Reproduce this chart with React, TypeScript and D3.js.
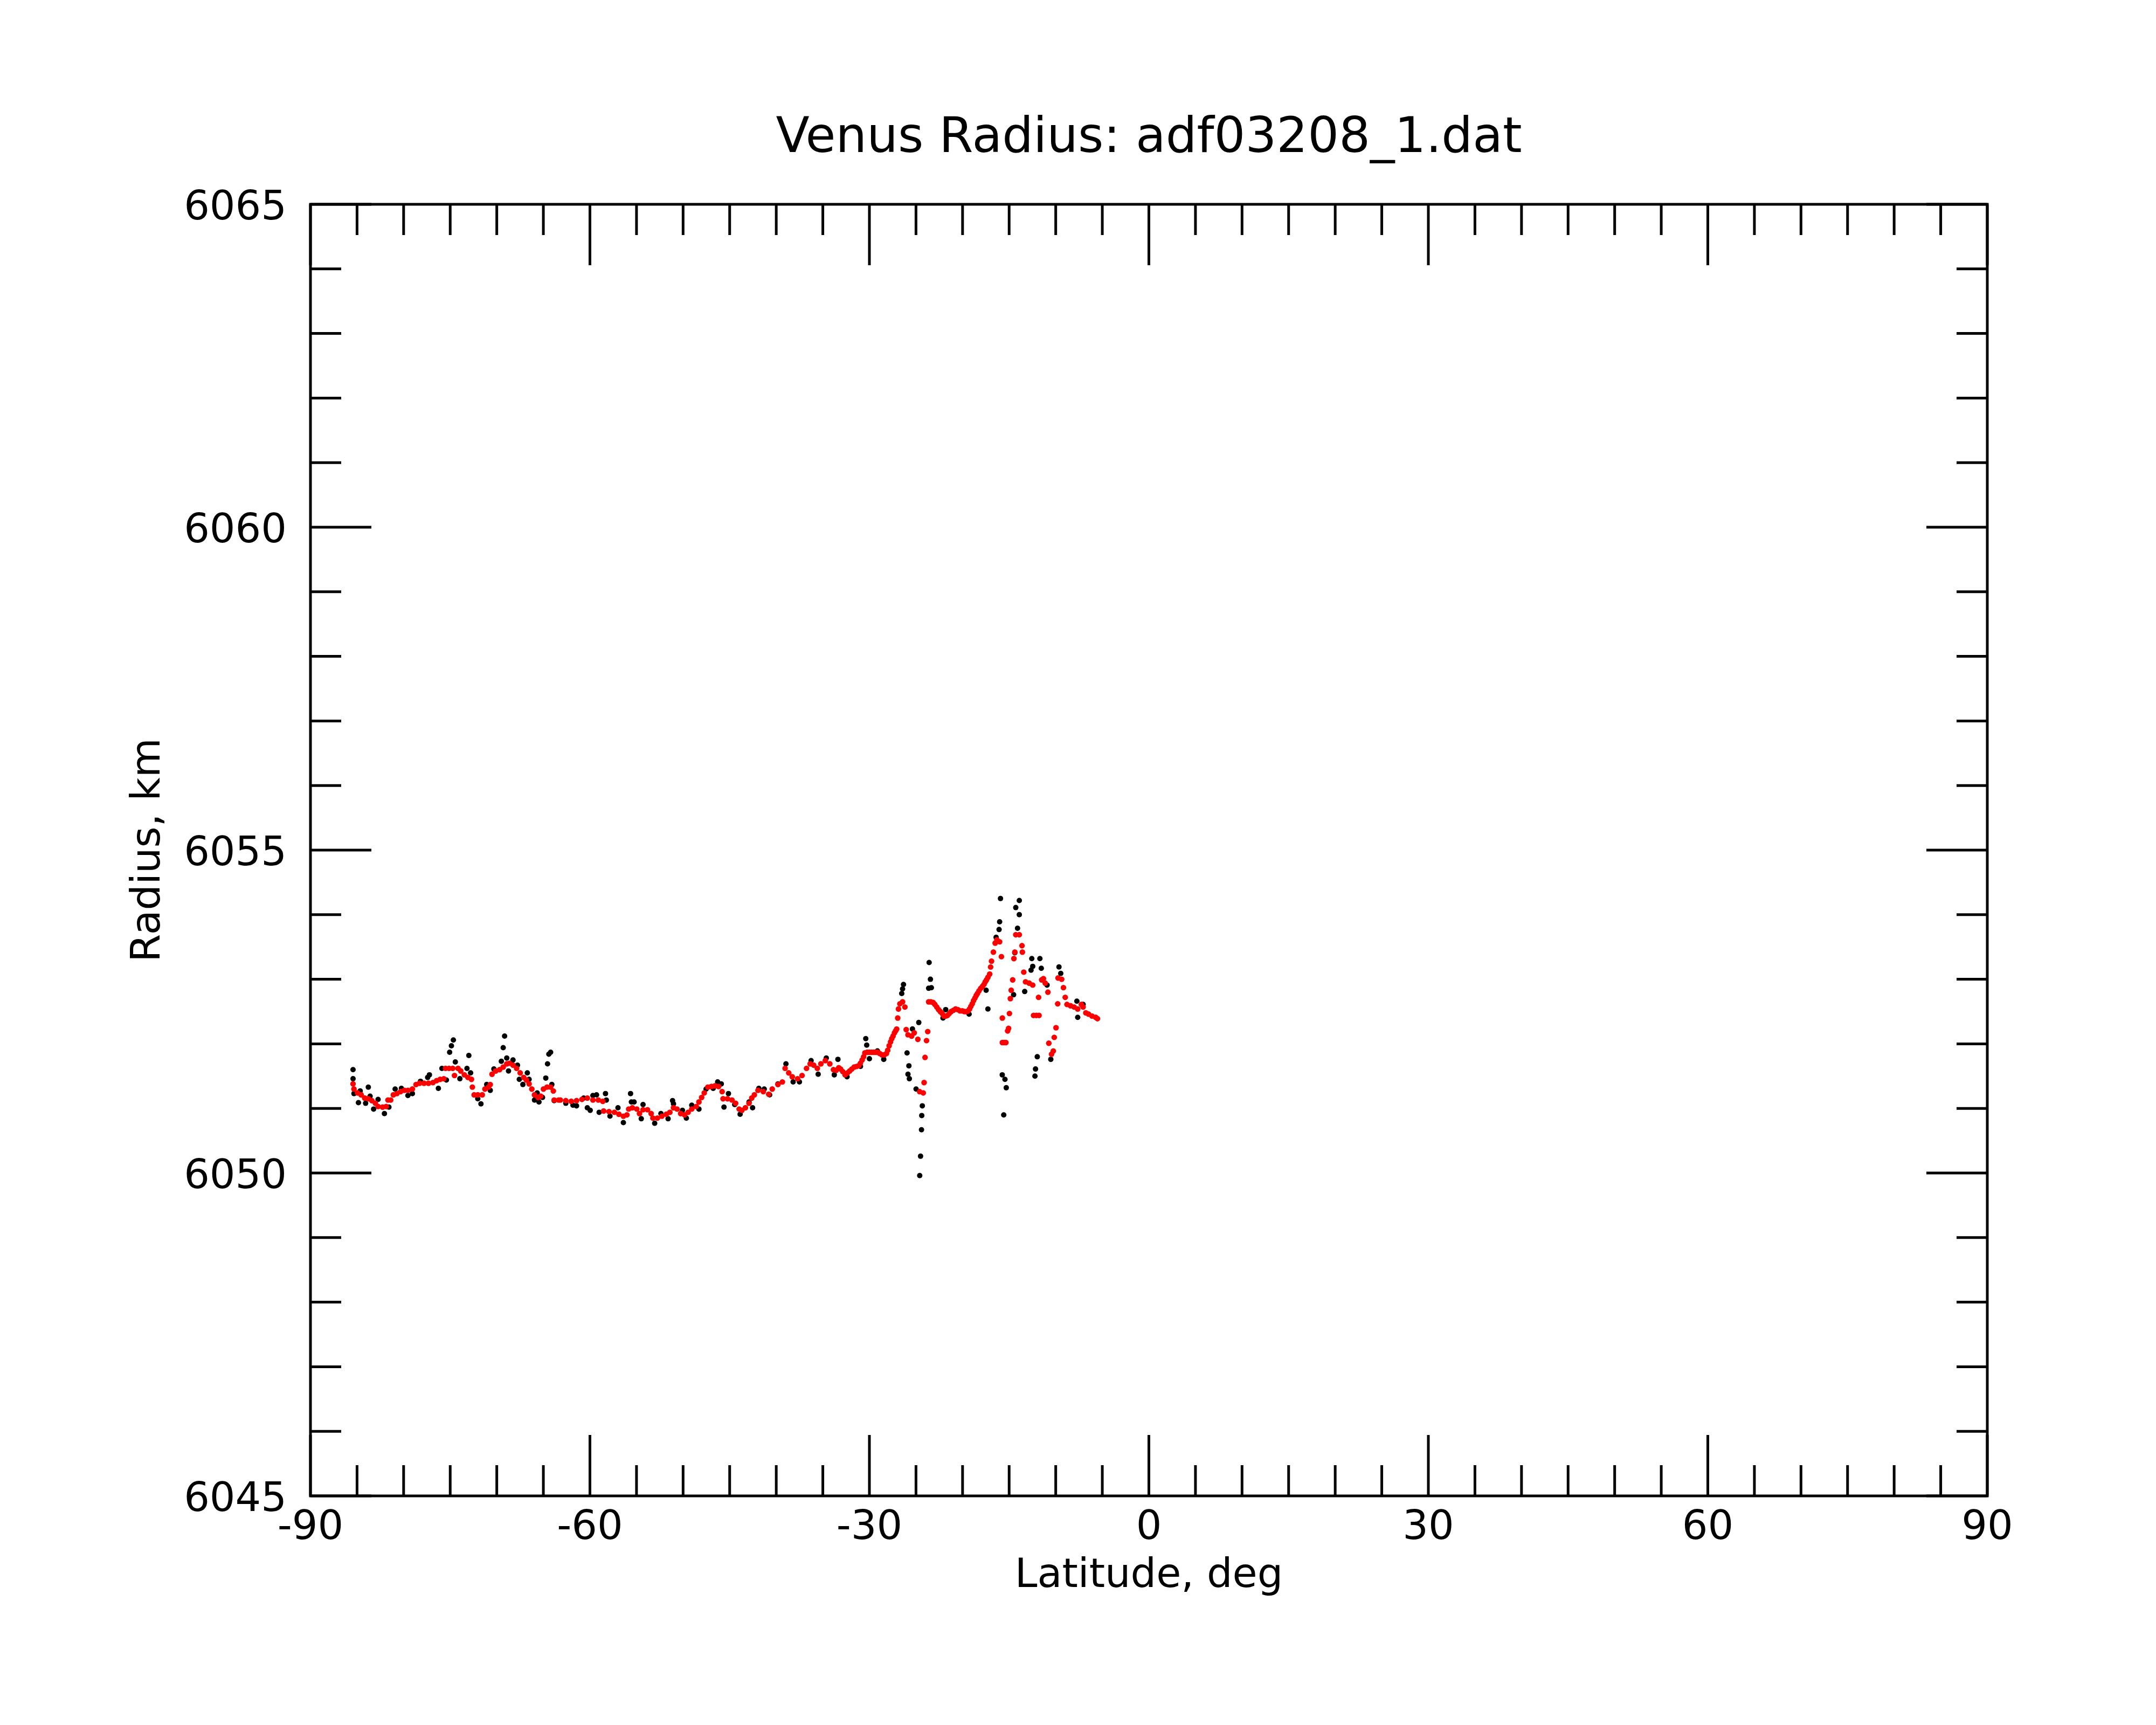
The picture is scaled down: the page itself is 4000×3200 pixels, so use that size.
import * as d3 from "d3";

const title = "Venus Radius: adf03208_1.dat";
const xLabel = "Latitude, deg";
const yLabel = "Radius, km";

const xDomain = [-90, 90];
const yDomain = [6045, 6065];
const xTicks = [-90, -60, -30, 0, 30, 60, 90];
const yTicks = [6045, 6050, 6055, 6060, 6065];

// raw radius samples (black), [latitude, radius]
const rawPoints: [number, number][] = [
  [-85.43, 6051.6], [-85.43, 6051.46], [-85.33, 6051.23], [-84.85, 6051.09], [-84.66, 6051.27],
  [-84.08, 6051.08], [-83.79, 6051.33], [-83.6, 6051.19], [-83.22, 6050.99], [-82.74, 6051.14],
  [-82.06, 6050.92], [-81.58, 6051.02], [-80.91, 6051.3], [-80.24, 6051.31], [-79.54, 6051.2],
  [-79.06, 6051.23], [-78.19, 6051.42], [-77.42, 6051.48], [-77.23, 6051.52], [-76.27, 6051.31],
  [-75.89, 6051.62], [-75.41, 6051.44], [-75.06, 6051.87], [-74.87, 6051.97], [-74.66, 6052.06],
  [-74.45, 6051.72], [-73.96, 6051.46], [-73.2, 6051.62], [-73.0, 6051.82], [-72.81, 6051.55],
  [-72.04, 6051.15], [-71.7, 6051.07], [-71.08, 6051.37], [-70.7, 6051.28], [-70.31, 6051.61],
  [-69.51, 6051.73], [-69.31, 6051.94], [-69.16, 6052.12], [-68.93, 6051.78], [-68.74, 6051.58],
  [-68.26, 6051.75], [-67.78, 6051.67], [-67.58, 6051.45], [-67.2, 6051.37], [-66.72, 6051.55],
  [-66.53, 6051.45], [-65.95, 6051.13], [-65.66, 6051.24], [-65.47, 6051.1], [-65.09, 6051.17],
  [-64.74, 6051.47], [-64.55, 6051.69], [-64.41, 6051.84], [-64.22, 6051.87], [-64.09, 6051.37],
  [-63.84, 6051.12], [-62.59, 6051.08], [-61.82, 6051.05], [-61.44, 6051.04], [-60.67, 6051.16],
  [-60.28, 6051.01], [-59.97, 6050.97], [-59.68, 6051.2], [-59.29, 6051.21], [-59.01, 6050.94],
  [-58.33, 6051.23], [-58.24, 6051.13], [-57.85, 6050.88], [-56.99, 6051.01], [-56.41, 6050.78],
  [-55.64, 6051.23], [-55.55, 6051.1], [-55.26, 6051.1], [-54.49, 6050.84], [-54.3, 6051.06],
  [-53.05, 6050.77], [-52.38, 6050.92], [-51.61, 6050.84], [-51.13, 6051.12], [-51.03, 6051.07],
  [-50.07, 6050.97], [-49.65, 6050.85], [-49.07, 6051.05], [-48.3, 6050.99], [-47.53, 6051.3],
  [-46.77, 6051.31], [-46.29, 6051.41], [-45.9, 6051.38], [-45.61, 6051.02], [-45.13, 6051.23],
  [-44.46, 6051.06], [-43.88, 6050.91], [-42.92, 6051.1], [-42.54, 6051.01], [-41.87, 6051.31],
  [-41.29, 6051.3], [-40.71, 6051.21], [-39.82, 6051.38], [-38.96, 6051.69], [-38.19, 6051.41],
  [-37.51, 6051.41], [-36.26, 6051.74], [-35.5, 6051.53], [-34.63, 6051.78], [-33.77, 6051.52],
  [-33.38, 6051.76], [-32.4, 6051.49], [-30.96, 6051.65], [-30.39, 6052.08], [-30.29, 6051.98],
  [-30.0, 6051.77], [-29.14, 6051.89], [-28.46, 6051.76], [-26.53, 6052.78], [-26.44, 6052.85],
  [-26.34, 6052.92], [-25.96, 6051.86], [-25.86, 6051.53], [-25.76, 6051.66], [-25.71, 6051.46],
  [-25.38, 6052.23], [-24.99, 6051.3], [-24.7, 6052.33], [-24.6, 6049.96], [-24.51, 6050.26],
  [-24.41, 6050.67], [-24.38, 6050.89], [-24.32, 6051.04], [-23.64, 6052.86], [-23.59, 6053.26],
  [-23.45, 6053.0], [-23.35, 6052.87], [-22.1, 6052.4], [-21.81, 6052.53], [-19.3, 6052.46],
  [-17.47, 6052.83], [-17.28, 6052.54], [-16.4, 6053.65], [-16.08, 6053.77], [-16.02, 6053.89],
  [-15.93, 6054.25], [-15.74, 6051.52], [-15.58, 6050.9], [-15.45, 6051.45], [-15.31, 6051.32],
  [-14.52, 6052.76], [-14.39, 6053.41], [-14.29, 6054.11], [-14.1, 6053.79], [-13.91, 6054.22],
  [-13.91, 6054.0], [-13.33, 6052.81], [-12.65, 6053.14], [-12.57, 6053.32], [-12.47, 6053.2],
  [-12.23, 6051.5], [-12.17, 6051.61], [-11.98, 6051.8], [-11.7, 6053.32], [-11.55, 6053.17],
  [-10.93, 6052.91], [-10.53, 6051.76], [-9.65, 6053.19], [-9.46, 6053.09], [-7.73, 6052.66],
  [-7.64, 6052.41], [-7.06, 6052.61],
];

// filtered radius (red), [latitude, radius]
const fitPoints: [number, number][] = [
  [-85.43, 6051.38], [-85.33, 6051.3], [-84.95, 6051.24], [-84.56, 6051.21], [-84.18, 6051.16],
  [-83.79, 6051.15], [-83.41, 6051.12], [-83.03, 6051.08], [-82.74, 6051.03], [-82.26, 6051.02],
  [-81.87, 6051.03], [-81.68, 6051.13], [-81.39, 6051.13], [-81.1, 6051.21], [-80.72, 6051.23],
  [-80.33, 6051.26], [-79.92, 6051.28], [-79.54, 6051.28], [-79.06, 6051.3], [-78.67, 6051.37],
  [-78.29, 6051.39], [-77.81, 6051.39], [-77.33, 6051.39], [-76.85, 6051.4], [-76.46, 6051.43],
  [-76.08, 6051.45], [-75.69, 6051.46], [-75.5, 6051.62], [-75.12, 6051.62], [-74.73, 6051.62],
  [-74.54, 6051.51], [-74.16, 6051.62], [-73.87, 6051.58], [-73.48, 6051.52], [-73.1, 6051.48],
  [-72.72, 6051.45], [-72.62, 6051.33], [-72.43, 6051.21], [-72.04, 6051.21], [-71.56, 6051.21],
  [-71.27, 6051.3], [-70.89, 6051.33], [-70.7, 6051.37], [-70.51, 6051.53], [-70.12, 6051.58],
  [-69.7, 6051.6], [-69.31, 6051.64], [-68.93, 6051.69], [-68.64, 6051.7], [-68.26, 6051.67],
  [-67.87, 6051.62], [-67.49, 6051.55], [-67.11, 6051.48], [-66.82, 6051.44], [-66.53, 6051.38],
  [-66.24, 6051.3], [-65.95, 6051.21], [-65.57, 6051.17], [-65.28, 6051.19], [-64.99, 6051.3],
  [-64.61, 6051.33], [-64.22, 6051.33], [-63.93, 6051.27], [-63.84, 6051.13], [-63.36, 6051.13],
  [-63.17, 6051.13], [-62.59, 6051.12], [-62.01, 6051.11], [-61.44, 6051.12], [-60.86, 6051.14],
  [-60.28, 6051.16], [-59.68, 6051.13], [-59.1, 6051.13], [-58.62, 6051.11], [-58.53, 6050.96],
  [-57.95, 6050.95], [-57.37, 6050.94], [-56.89, 6050.91], [-56.41, 6050.88], [-56.03, 6050.9],
  [-55.84, 6050.99], [-55.45, 6051.01], [-54.97, 6050.99], [-54.68, 6050.92], [-54.3, 6050.98],
  [-53.82, 6050.98], [-53.43, 6050.92], [-53.24, 6050.85], [-52.76, 6050.85], [-52.28, 6050.88],
  [-51.8, 6050.91], [-51.42, 6050.94], [-51.03, 6051.01], [-50.65, 6050.99], [-50.26, 6050.92],
  [-49.84, 6050.9], [-49.46, 6050.94], [-49.07, 6050.99], [-48.59, 6051.03], [-48.3, 6051.1],
  [-48.01, 6051.17], [-47.73, 6051.24], [-47.34, 6051.33], [-46.96, 6051.34], [-46.57, 6051.35],
  [-46.19, 6051.34], [-45.81, 6051.26], [-45.71, 6051.15], [-45.23, 6051.15], [-44.75, 6051.13],
  [-44.36, 6051.08], [-43.98, 6050.99], [-43.69, 6050.97], [-43.31, 6051.01], [-42.92, 6051.08],
  [-42.63, 6051.16], [-42.35, 6051.21], [-41.96, 6051.28], [-41.39, 6051.26], [-40.81, 6051.22],
  [-40.43, 6051.3], [-39.82, 6051.37], [-39.34, 6051.41], [-39.05, 6051.62], [-38.66, 6051.55],
  [-38.28, 6051.49], [-37.71, 6051.46], [-37.23, 6051.51], [-36.75, 6051.62], [-36.36, 6051.69],
  [-35.98, 6051.67], [-35.59, 6051.62], [-35.21, 6051.69], [-34.73, 6051.74], [-34.25, 6051.69],
  [-33.86, 6051.6], [-33.58, 6051.59], [-33.29, 6051.63], [-33.09, 6051.61], [-32.86, 6051.57],
  [-32.61, 6051.52], [-32.36, 6051.55], [-32.12, 6051.58], [-31.89, 6051.61], [-31.64, 6051.64],
  [-31.39, 6051.65], [-31.16, 6051.66], [-30.97, 6051.7], [-30.78, 6051.75], [-30.62, 6051.8],
  [-30.49, 6051.86], [-30.24, 6051.87], [-30.0, 6051.87], [-29.77, 6051.87], [-29.52, 6051.87],
  [-29.33, 6051.87], [-29.14, 6051.87], [-28.89, 6051.85], [-28.65, 6051.83], [-28.4, 6051.83],
  [-28.17, 6051.85], [-28.04, 6051.9], [-27.88, 6051.97], [-27.73, 6052.03], [-27.6, 6052.08],
  [-27.46, 6052.12], [-27.31, 6052.17], [-27.19, 6052.2], [-27.07, 6052.23], [-26.96, 6052.4],
  [-26.88, 6052.54], [-26.73, 6052.62], [-26.44, 6052.65], [-26.19, 6052.57], [-26.05, 6052.22],
  [-25.86, 6052.14], [-25.47, 6052.12], [-25.19, 6052.17], [-24.8, 6052.07], [-24.61, 6051.26],
  [-24.22, 6051.24], [-24.13, 6051.4], [-24.03, 6051.79], [-23.87, 6052.05], [-23.74, 6052.19],
  [-23.64, 6052.65], [-23.41, 6052.65], [-23.16, 6052.64], [-22.97, 6052.61], [-22.77, 6052.57],
  [-22.58, 6052.53], [-22.39, 6052.5], [-22.19, 6052.47], [-22.0, 6052.43], [-21.81, 6052.43],
  [-21.62, 6052.44], [-21.43, 6052.47], [-21.23, 6052.5], [-20.98, 6052.52], [-20.75, 6052.54],
  [-20.52, 6052.53], [-20.27, 6052.51], [-20.02, 6052.51], [-19.79, 6052.5], [-19.59, 6052.5],
  [-19.4, 6052.51], [-19.25, 6052.54], [-19.11, 6052.58], [-18.96, 6052.62], [-18.82, 6052.67],
  [-18.67, 6052.71], [-18.53, 6052.75], [-18.4, 6052.78], [-18.24, 6052.82], [-18.05, 6052.86],
  [-17.86, 6052.89], [-17.7, 6052.92], [-17.57, 6052.96], [-17.43, 6052.99], [-17.28, 6053.03],
  [-17.09, 6053.08], [-16.99, 6053.19], [-16.89, 6053.28], [-16.69, 6053.42], [-16.5, 6053.56],
  [-16.31, 6053.61], [-16.02, 6053.58], [-15.83, 6053.35], [-15.73, 6052.4], [-15.73, 6052.02],
  [-15.54, 6052.02], [-15.35, 6052.02], [-15.16, 6052.2], [-15.06, 6052.24], [-14.97, 6052.47],
  [-14.87, 6052.7], [-14.78, 6052.83], [-14.62, 6052.99], [-14.49, 6053.32], [-14.39, 6053.42],
  [-14.29, 6053.69], [-13.91, 6053.69], [-13.62, 6053.52], [-13.58, 6053.42], [-13.43, 6053.11],
  [-13.24, 6052.96], [-12.85, 6052.94], [-12.47, 6052.91], [-12.38, 6052.44], [-12.08, 6052.44],
  [-11.79, 6052.44], [-11.84, 6052.72], [-11.51, 6052.99], [-11.32, 6053.01], [-11.13, 6052.94],
  [-10.84, 6052.8], [-10.74, 6052.01], [-10.45, 6051.84], [-10.26, 6051.89], [-10.16, 6052.1],
  [-9.97, 6052.25], [-9.79, 6052.62], [-9.75, 6053.02], [-9.36, 6053.0], [-9.17, 6052.87],
  [-8.98, 6052.72], [-8.79, 6052.61], [-8.41, 6052.59], [-8.02, 6052.57], [-7.64, 6052.54],
  [-7.25, 6052.61], [-7.06, 6052.57], [-6.77, 6052.48], [-6.48, 6052.46], [-6.1, 6052.43],
  [-5.71, 6052.41], [-5.52, 6052.39],
];

const W = 4000;
const H = 3200;
const plot = { left: 576, right: 3687, top: 379, bottom: 2775 };
const font = "DejaVu Sans";

export default function App() {
  const x = d3.scaleLinear().domain(xDomain).range([plot.left, plot.right]);
  const y = d3.scaleLinear().domain(yDomain).range([plot.bottom, plot.top]);

  const xMinor = d3.range(xDomain[0], xDomain[1] + 1, 5);
  const yMinor = d3.range(yDomain[0], yDomain[1] + 1, 1);
  const minorLen = 57;
  const majorLen = 113;
  const cx = (plot.left + plot.right) / 2;
  const cy = (plot.top + plot.bottom) / 2;

  return (
    <svg
      width={W}
      height={H}
      style={{ position: "absolute", left: 0, top: 0, background: "#fff" }}
      fontFamily={font}
    >
      <rect width={W} height={H} fill="#fff" />

      {rawPoints.map(([lat, r], i) => (
        <circle key={"b" + i} cx={x(lat)} cy={y(r)} r={5} fill="#000" />
      ))}
      {fitPoints.map(([lat, r], i) => (
        <circle key={"r" + i} cx={x(lat)} cy={y(r)} r={5.2} fill="#ff0000" />
      ))}

      <g stroke="#000" strokeWidth={5}>
        {xMinor.map((v) => {
          const len = xTicks.includes(v) ? majorLen : minorLen;
          return (
            <g key={"x" + v}>
              <line x1={x(v)} x2={x(v)} y1={plot.bottom} y2={plot.bottom - len} />
              <line x1={x(v)} x2={x(v)} y1={plot.top} y2={plot.top + len} />
            </g>
          );
        })}
        {yMinor.map((v) => {
          const len = yTicks.includes(v) ? majorLen : minorLen;
          return (
            <g key={"y" + v}>
              <line x1={plot.left} x2={plot.left + len} y1={y(v)} y2={y(v)} />
              <line x1={plot.right} x2={plot.right - len} y1={y(v)} y2={y(v)} />
            </g>
          );
        })}
        <rect
          x={plot.left}
          y={plot.top}
          width={plot.right - plot.left}
          height={plot.bottom - plot.top}
          fill="none"
        />
      </g>

      <g fontSize={75} fill="#000">
        {xTicks.map((v) => (
          <text key={"xl" + v} x={x(v)} y={plot.bottom + 80} textAnchor="middle">
            {v}
          </text>
        ))}
        {yTicks.map((v) => (
          <text key={"yl" + v} x={plot.left - 44} y={y(v) + 28} textAnchor="end">
            {v}
          </text>
        ))}
        <text x={cx} y={2944} textAnchor="middle">
          {xLabel}
        </text>
        <text transform={`translate(296, ${cy}) rotate(-90)`} textAnchor="middle">
          {yLabel}
        </text>
      </g>

      <text x={cx} y={282} textAnchor="middle" fontSize={91}>
        {title}
      </text>
    </svg>
  );
}
